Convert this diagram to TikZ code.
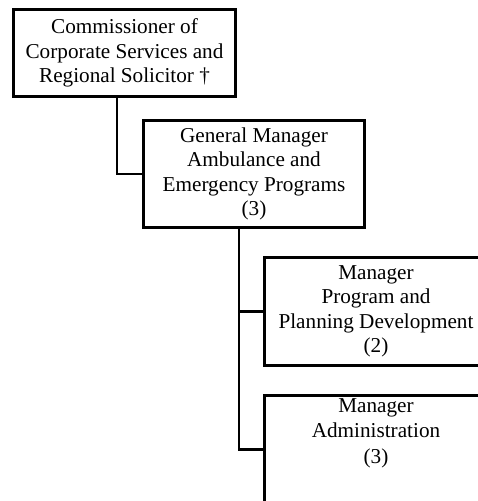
\documentclass[tikz,border=0pt]{standalone}
\usepackage{fontspec}
\setmainfont{Liberation Serif}
\begin{document}
\begin{tikzpicture}[x=1pt,y=-1pt,
  orgbox/.style={draw, line width=2.9pt, rectangle, inner sep=0pt, align=center,
    font=\fontsize{21.2}{24.5}\selectfont},
  link/.style={line width=2.9pt}]
\useasboundingbox (0,0) rectangle (478,501);
\clip (0,0) rectangle (478,501);
\node[orgbox, minimum width=222pt, minimum height=87pt] (b1) at (124.5,53)
  {Commissioner of\\Corporate Services and\\Regional Solicitor †};
\node[orgbox, minimum width=221pt, minimum height=107pt] (b2) at (254,174)
  {General Manager\\Ambulance and\\Emergency Programs\\(3)};
\node[orgbox, minimum width=223pt, minimum height=108pt] (b3) at (376,311.5)
  {Manager\\Program and\\Planning Development\\(2)};
\node[orgbox, minimum width=223pt, minimum height=108pt] (b4) at (376,449.5) {};
\node[align=center, inner sep=0pt, font=\fontsize{21.2}{25.5}\selectfont] (b4t) at (376,433)
  {Manager\\Administration\\(3)};
\coordinate (j1) at (117,174);
\coordinate (t) at (239,449.5);
\draw[link] (j1 |- b1.south) -- (j1) -- (b2.west);
\draw[link] (t |- b2.south) -- (t) -- (b4.west);
\draw[link] (t |- b3.west) -- (b3.west);
\end{tikzpicture}
\end{document}
